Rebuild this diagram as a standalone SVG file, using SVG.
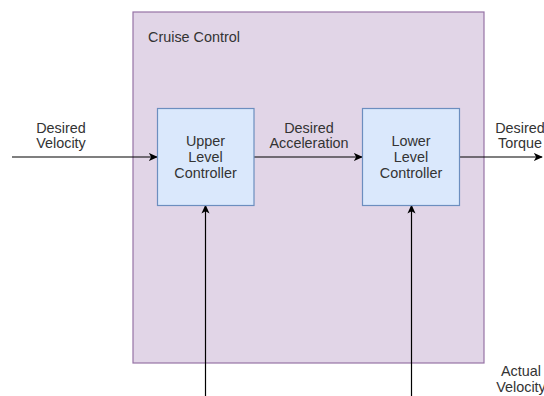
<svg xmlns="http://www.w3.org/2000/svg" width="544" height="396" viewBox="0 0 544 396">
  <style>
    .lbl { font-family: "Liberation Sans", Arial, sans-serif; font-size: 14.4px; fill: #333333; text-anchor: middle; }
    .title { text-anchor: start; }
    .block { fill: #dae8fc; stroke: #6c8ebf; stroke-width: 1.2; }
    .frame { fill: #e1d5e7; stroke: #9673a6; stroke-width: 1.2; }
    .wire { fill: none; stroke: #000000; stroke-width: 1.2; }
  </style>
  <defs>
    <marker id="arrow" viewBox="0 0 10 10" refX="9" refY="5" markerWidth="9" markerHeight="9" markerUnits="userSpaceOnUse" orient="auto">
      <path d="M0,0.5 L10,5 L0,9.5 L2.5,5 Z" fill="#000000"/>
    </marker>
  </defs>

  <!-- enclosing system -->
  <g id="cruise-control">
    <rect class="frame" x="133" y="12" width="351" height="351"/>
    <text class="lbl title" x="148" y="41.5">Cruise Control</text>
  </g>

  <!-- connectors -->
  <g id="connectors">
    <path class="wire" d="M12,157 L157,157" marker-end="url(#arrow)"/>
    <path class="wire" d="M254,157 L362,157" marker-end="url(#arrow)"/>
    <path class="wire" d="M460,157 L542,157" marker-end="url(#arrow)"/>
    <path class="wire" d="M205.5,396 L205.5,205.5" marker-end="url(#arrow)"/>
    <path class="wire" d="M411.5,396 L411.5,205.5" marker-end="url(#arrow)"/>
    <text class="lbl" x="61" y="132.5">Desired</text>
    <text class="lbl" x="61" y="148">Velocity</text>
    <text class="lbl" x="309" y="132.5">Desired</text>
    <text class="lbl" x="309" y="148">Acceleration</text>
    <text class="lbl" x="520" y="132.5">Desired</text>
    <text class="lbl" x="520" y="148">Torque</text>
    <text class="lbl" x="521" y="376">Actual</text>
    <text class="lbl" x="521" y="392">Velocity</text>
  </g>

  <g id="upper-controller">
    <rect class="block" x="157.5" y="108.5" width="96.5" height="97"/>
    <text class="lbl" x="205.5" y="146">Upper</text>
    <text class="lbl" x="205.5" y="162">Level</text>
    <text class="lbl" x="205.5" y="178">Controller</text>
  </g>

  <g id="lower-controller">
    <rect class="block" x="362.5" y="108.5" width="97" height="97"/>
    <text class="lbl" x="411" y="146">Lower</text>
    <text class="lbl" x="411" y="162">Level</text>
    <text class="lbl" x="411" y="178">Controller</text>
  </g>
</svg>
